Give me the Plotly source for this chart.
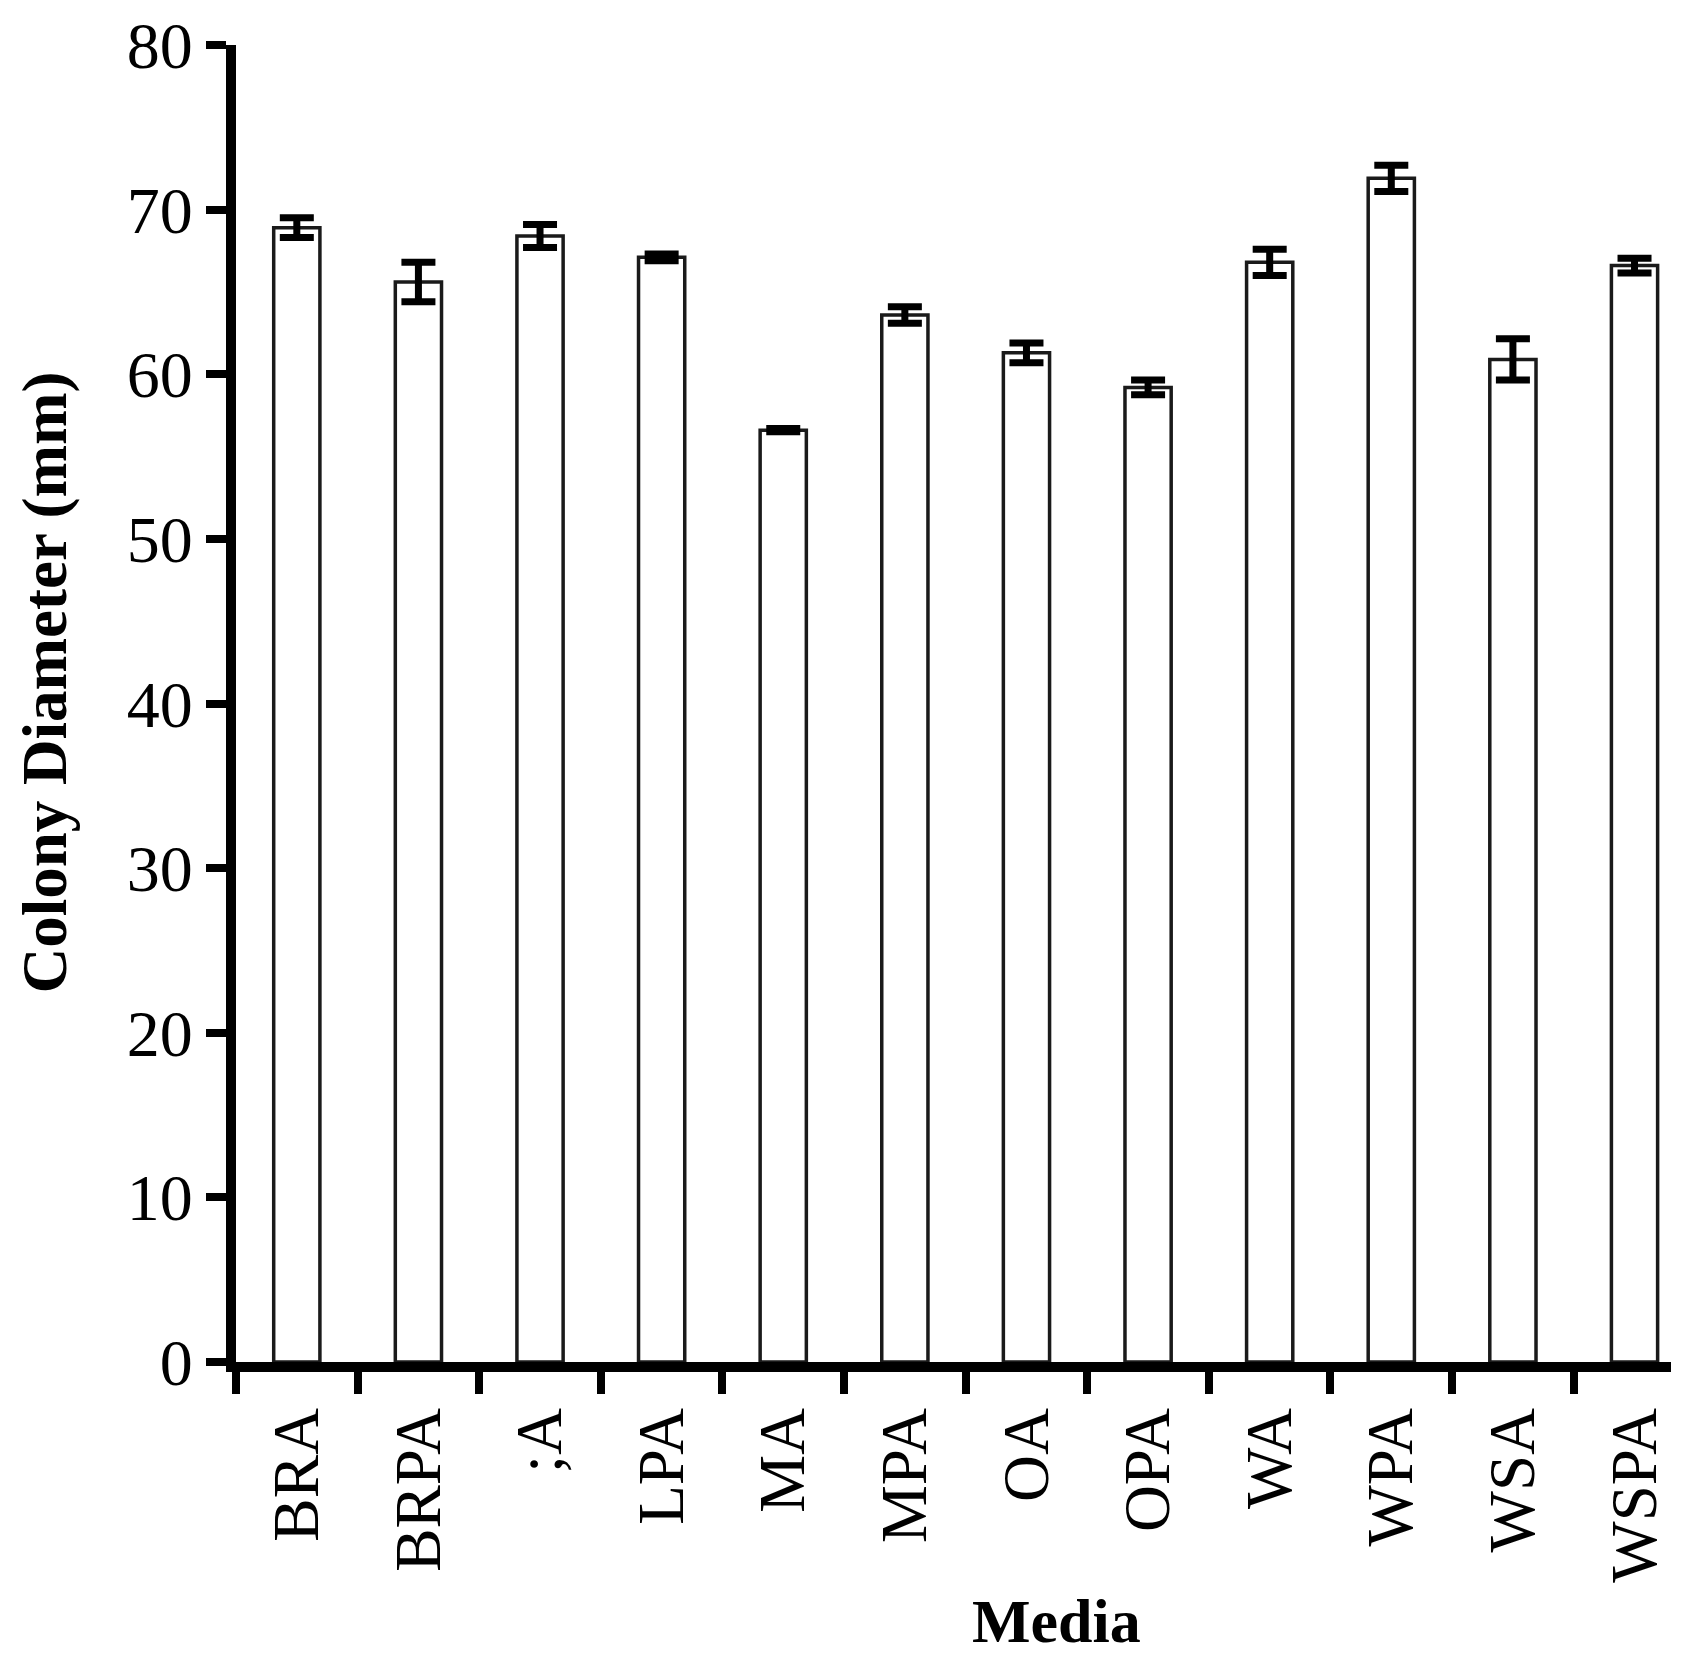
import plotly.graph_objects as go

# Colony diameter per medium (mm)
media = ["BRA", "BRPA", ";A", "LPA", "MA", "MPA", "OA", "OPA", "WA", "WPA", "WSA", "WSPA"]
diameter = [68.9, 65.6, 68.4, 67.1, 56.6, 63.6, 61.3, 59.2, 66.8, 71.9, 60.9, 66.6]
error = [0.6, 1.2, 0.7, 0.2, 0.1, 0.5, 0.6, 0.45, 0.8, 0.8, 1.25, 0.45]
y_ticks = [0, 10, 20, 30, 40, 50, 60, 70, 80]

FONT = "Liberation Serif, Times New Roman, serif"

fig = go.Figure()
fig.add_trace(
    go.Bar(
        x=media,
        y=diameter,
        width=0.38,
        marker=dict(color="white", line=dict(color="#1a1a1a", width=3.5)),
        error_y=dict(type="data", array=error, visible=True,
                     color="black", thickness=7, width=17),
    )
)

fig.update_layout(
    width=1704,
    height=1657,
    paper_bgcolor="white",
    plot_bgcolor="white",
    showlegend=False,
    margin=dict(l=228, r=41, t=37, b=303),
    font=dict(family=FONT, color="black"),
    annotations=[
        dict(text="<b>Media</b>", xref="paper", yref="paper",
             x=0.572, y=-0.1965, xanchor="center", yanchor="middle",
             showarrow=False, font=dict(family=FONT, size=62, color="black")),
        dict(text="<b>Colony Diameter (mm)</b>", xref="paper", yref="paper",
             x=-0.1325, y=0.516, xanchor="center", yanchor="middle", textangle=-90,
             showarrow=False, font=dict(family=FONT, size=63, color="black")),
    ],
)

fig.update_xaxes(
    range=[-0.5, 11.3],
    automargin=False,
    showline=True, linecolor="black", linewidth=10,
    ticks="outside", tickson="boundaries", ticklen=22, tickwidth=8, tickcolor="black",
    tickangle=-90, tickfont=dict(family=FONT, size=65),
    ticklabelstandoff=10, ticklabeloverflow="allow",
    showgrid=False, zeroline=False,
)

fig.update_yaxes(
    range=[0, 80],
    automargin=False,
    tickvals=y_ticks,
    showline=True, linecolor="black", linewidth=10,
    ticks="outside", ticklen=20, tickwidth=8, tickcolor="black",
    tickfont=dict(family=FONT, size=66),
    ticklabelstandoff=0, ticklabeloverflow="allow",
    showgrid=False, zeroline=False,
)

fig.write_html("out.html")
